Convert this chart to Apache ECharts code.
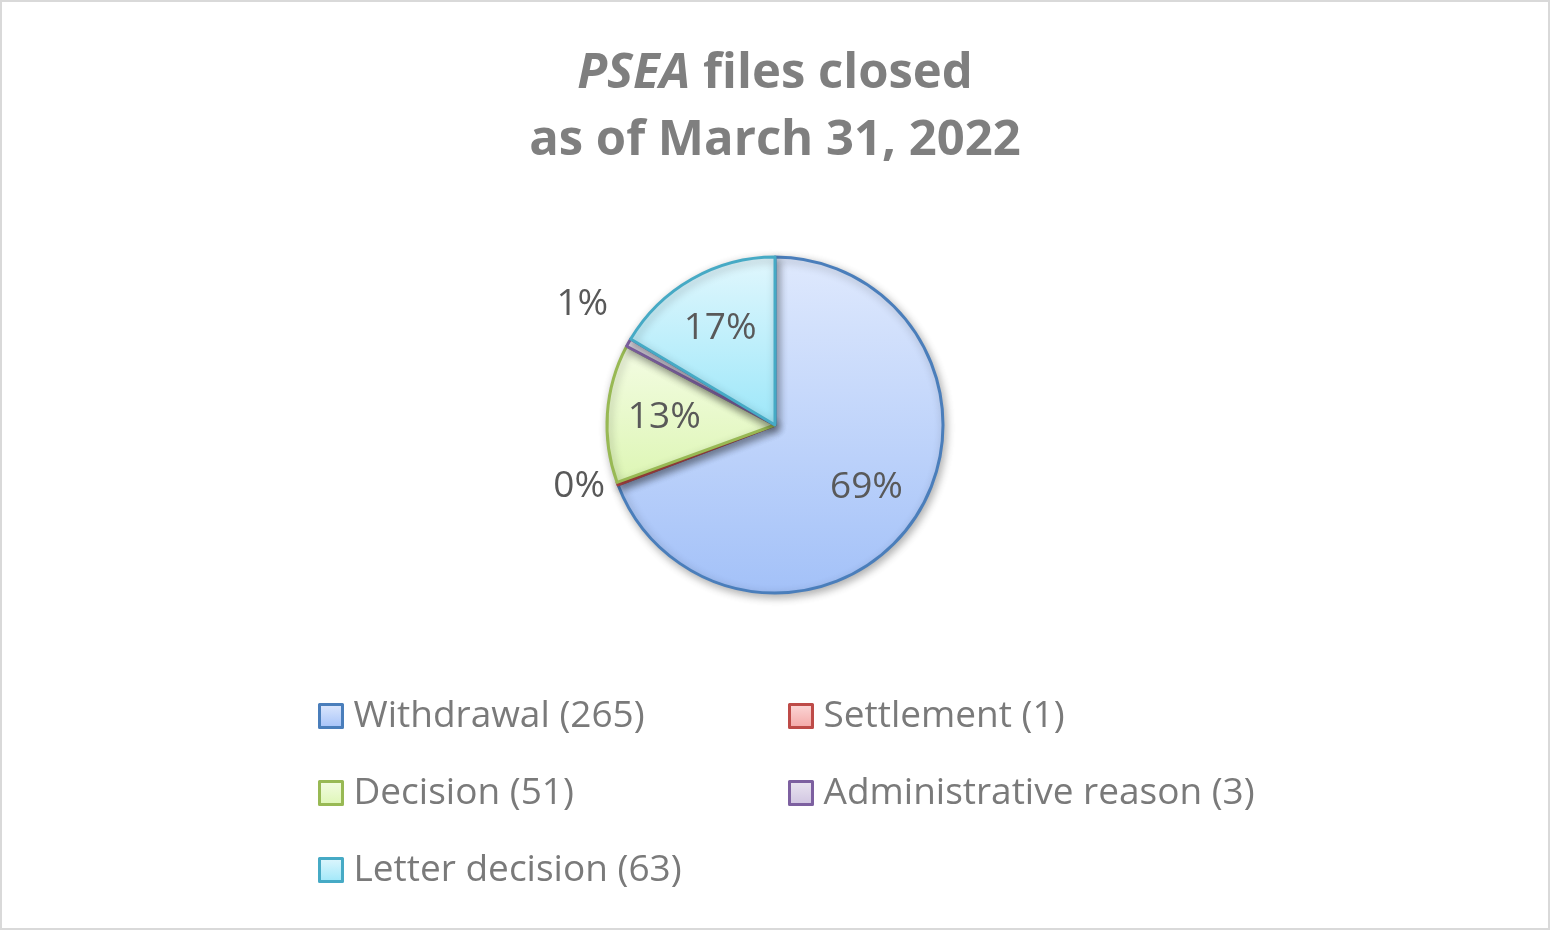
<!DOCTYPE html>
<html>
<head>
<meta charset="utf-8">
<title>PSEA files closed</title>
<script src="https://cdn.jsdelivr.net/npm/echarts@6/dist/echarts.min.js"></script>
<style>
  html, body { margin: 0; padding: 0; background: #fff; }
  #chart { width: 1550px; height: 930px; }
</style>
</head>
<body>
<div id="chart"></div>
<script>
// data
var categories = ['Withdrawal', 'Settlement', 'Decision', 'Administrative reason', 'Letter decision'];
var counts = [265, 1, 51, 3, 63];

// slice look: gradient top -> bottom, outline
var topColors    = ['#dfe9fd', '#fcd9d9', '#f4fce4', '#ebe6f1', '#e1f7fd'];
var bottomColors = ['#a3c1f8', '#f3a6a5', '#ddf6b4', '#cfc3e0', '#9de7f9'];
var edgeColors   = ['#4a7ebb', '#be4b48', '#98b954', '#7d60a0', '#46aac5'];

var total = counts.reduce(function (a, b) { return a + b; }, 0);
var names = categories.map(function (c, i) { return c + ' (' + counts[i] + ')'; });

function grad(i) {
  return new echarts.graphic.LinearGradient(0, 0, 0, 1, [
    { offset: 0, color: topColors[i] },
    { offset: 1, color: bottomColors[i] }
  ]);
}

var FONT = "'Open Sans', 'Noto Sans', sans-serif";

// main slices, small ones get their label outside
var sliceData = counts.map(function (v, i) {
  var small = v / total < 0.05;
  return {
    name: names[i],
    value: v,
    itemStyle: { color: grad(i), borderColor: edgeColors[i], borderWidth: 3 },
    label: { show: small, offset: i === 3 ? [2, -28] : [0, 0] },
    labelLine: { show: false, length: i === 3 ? 20 : 8, length2: 0 }
  };
});

// label carrier: same values, bigger radius so inside labels sit further out
var labelData = counts.map(function (v, i) {
  return {
    name: names[i],
    value: v,
    label: { show: v / total >= 0.05 }
  };
});

var legendText = { fontFamily: FONT, fontSize: 37, color: '#7a7a7a', lineHeight: 40, padding: [0, 0, 0, 6] };

var option = {
  animation: false,
  backgroundColor: '#ffffff',
  title: {
    text: '{i|PSEA} files closed\nas of March 31, 2022',
    left: 'center',
    top: 36,
    textStyle: {
      fontFamily: FONT,
      fontSize: 49,
      fontWeight: 'bold',
      color: '#7f7f7f',
      lineHeight: 67,
      rich: {
        i: { fontFamily: FONT, fontSize: 49, fontWeight: 'bold', fontStyle: 'italic', color: '#7f7f7f', lineHeight: 67 }
      }
    }
  },
  legend: [
    {
      orient: 'vertical',
      left: 318,
      top: 696,
      padding: 0,
      icon: 'rect',
      itemWidth: 23,
      itemHeight: 23,
      itemGap: 37,
      selectedMode: false,
      itemStyle: { borderWidth: 3 },
      textStyle: legendText,
      data: [names[0], names[2], names[4]]
    },
    {
      orient: 'vertical',
      left: 788,
      top: 696,
      padding: 0,
      icon: 'rect',
      itemWidth: 23,
      itemHeight: 23,
      itemGap: 37,
      selectedMode: false,
      itemStyle: { borderWidth: 3 },
      textStyle: legendText,
      data: [names[1], names[3]]
    }
  ],
  graphic: [
    {
      type: 'rect',
      silent: true,
      shape: { x: 1, y: 1, width: 1548, height: 928 },
      style: { fill: 'none', stroke: '#d9d9d9', lineWidth: 2 }
    }
  ],
  series: [
    {
      name: 'closed',
      type: 'pie',
      center: [775, 425],
      radius: [0, 168],
      startAngle: 90,
      clockwise: true,
      avoidLabelOverlap: false,
      emphasis: { disabled: true },
      itemStyle: {
        shadowBlur: 8,
        shadowColor: 'rgba(0,0,0,0.3)',
        shadowOffsetX: 2,
        shadowOffsetY: 3
      },
      label: {
        position: 'outside',
        formatter: '{d}%',
        fontFamily: FONT,
        fontSize: 37,
        color: '#595959'
      },
      percentPrecision: 0,
      data: sliceData
    },
    {
      name: 'labels',
      type: 'pie',
      center: [775, 425],
      radius: [0, 216],
      startAngle: 90,
      clockwise: true,
      silent: true,
      avoidLabelOverlap: false,
      emphasis: { disabled: true },
      itemStyle: { color: 'rgba(0,0,0,0)', borderWidth: 0 },
      labelLine: { show: false },
      label: {
        position: 'inside',
        formatter: '{d}%',
        fontFamily: FONT,
        fontSize: 37,
        color: '#595959'
      },
      percentPrecision: 0,
      data: labelData
    }
  ]
};

var myChart = echarts.init(document.getElementById('chart'));
myChart.setOption(option, true);
</script>
</body>
</html>
